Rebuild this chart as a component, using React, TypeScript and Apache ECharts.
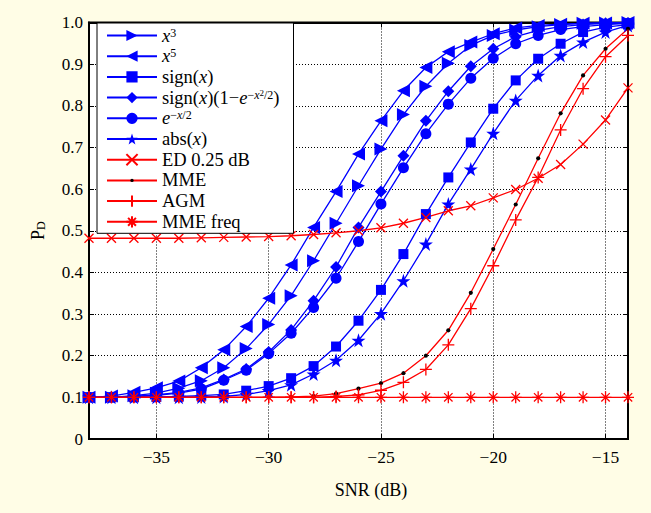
import React, { useEffect, useRef } from 'react';
import * as echarts from 'echarts';

// SNR (dB) sample points
const snr = [-38, -37, -36, -35, -34, -33, -32, -31, -30, -29, -28, -27, -26, -25, -24, -23, -22, -21, -20, -19, -18, -17, -16, -15, -14];

// P_D values
const pdX3 = [0.100, 0.100, 0.104, 0.110, 0.122, 0.140, 0.171, 0.217, 0.275, 0.344, 0.428, 0.518, 0.608, 0.696, 0.779, 0.847, 0.902, 0.945, 0.969, 0.982, 0.990, 0.995, 0.998, 0.999, 1.000];
const pdX5 = [0.100, 0.103, 0.112, 0.123, 0.139, 0.171, 0.214, 0.270, 0.338, 0.418, 0.508, 0.594, 0.684, 0.764, 0.836, 0.892, 0.930, 0.953, 0.973, 0.987, 0.993, 0.996, 0.998, 0.999, 1.000];
const pdSign = [0.100, 0.100, 0.100, 0.101, 0.102, 0.104, 0.107, 0.116, 0.127, 0.146, 0.175, 0.222, 0.284, 0.358, 0.444, 0.540, 0.628, 0.712, 0.793, 0.861, 0.913, 0.949, 0.977, 0.989, 0.995];
const pdSignExp = [0.100, 0.100, 0.102, 0.106, 0.112, 0.123, 0.143, 0.168, 0.209, 0.262, 0.332, 0.413, 0.508, 0.594, 0.680, 0.764, 0.835, 0.895, 0.937, 0.966, 0.981, 0.990, 0.995, 0.998, 0.999];
const pdExp = [0.100, 0.100, 0.102, 0.105, 0.110, 0.120, 0.141, 0.165, 0.205, 0.254, 0.316, 0.386, 0.474, 0.564, 0.651, 0.733, 0.804, 0.866, 0.914, 0.949, 0.969, 0.983, 0.990, 0.995, 0.998];
const pdAbs = [0.100, 0.100, 0.100, 0.100, 0.100, 0.101, 0.102, 0.107, 0.116, 0.130, 0.156, 0.189, 0.237, 0.301, 0.380, 0.468, 0.564, 0.648, 0.734, 0.813, 0.873, 0.921, 0.953, 0.977, 0.993];
const pdED = [0.482, 0.482, 0.482, 0.482, 0.482, 0.483, 0.484, 0.485, 0.486, 0.488, 0.491, 0.495, 0.500, 0.507, 0.518, 0.532, 0.548, 0.560, 0.579, 0.599, 0.626, 0.659, 0.708, 0.766, 0.843];
const pdMME = [0.100, 0.100, 0.100, 0.100, 0.100, 0.100, 0.100, 0.100, 0.100, 0.101, 0.103, 0.109, 0.121, 0.134, 0.158, 0.200, 0.261, 0.351, 0.456, 0.563, 0.674, 0.782, 0.873, 0.937, 0.985];
const pdAGM = [0.100, 0.100, 0.100, 0.100, 0.100, 0.100, 0.100, 0.100, 0.100, 0.100, 0.100, 0.102, 0.106, 0.117, 0.136, 0.167, 0.226, 0.313, 0.416, 0.526, 0.628, 0.742, 0.841, 0.918, 0.969];
const pdMMEfreq = [0.100, 0.100, 0.100, 0.100, 0.100, 0.100, 0.100, 0.100, 0.100, 0.100, 0.100, 0.100, 0.100, 0.100, 0.100, 0.100, 0.100, 0.100, 0.100, 0.100, 0.100, 0.100, 0.100, 0.100, 0.100];

const seriesNames = ['x3', 'x5', 'sign(x)', 'sign(x)(1−e−x2/2)', 'e−x/2', 'abs(x)', 'ED 0.25 dB', 'MME', 'AGM', 'MME freq'];

const LEGEND_RICH: Record<string, string> = {
  'x3': '{i|x}{sup|3}',
  'x5': '{i|x}{sup|5}',
  'sign(x)': 'sign({i|x})',
  'sign(x)(1−e−x2/2)': 'sign({i|x})(1−{i|e}{sup|−}{supi|x}{sup2|2}{sup|/2})',
  'e−x/2': '{i|e}{sup|−}{supi|x}{sup|/2}',
  'abs(x)': 'abs({i|x})',
  'ED 0.25 dB': 'ED 0.25 dB',
  'MME': 'MME',
  'AGM': 'AGM',
  'MME freq': 'MME freq',
};

const FONT = '"Liberation Serif", "Times New Roman", serif';
const BLUE = '#0000ff';
const RED = '#ff0000';
const BG = '#fffde6';

const STAR = 'path://M50,0 L61.8,35.1 L98.1,35.1 L68.8,56.7 L79.4,91 L50,70 L20.6,91 L31.2,56.7 L1.9,35.1 L38.2,35.1 Z';
const XMARK = 'path://M0,0L10,10M10,0L0,10';
const PLUS = 'path://M5,0L5,10M0,5L10,5';
const ASTER = 'path://M5,0L5,10M0,5L10,5M1.5,1.5L8.5,8.5M8.5,1.5L1.5,8.5';
// small filled dot centred in a 10x10 box (the moveTo points fix the box)
const SMALLDOT = 'path://M0,0M10,10M3.5,5L3.9,3.9L5,3.5L6.1,3.9L6.5,5L6.1,6.1L5,6.5L3.9,6.1Z';

function pts(vals: number[]) {
  return snr.map((x, i) => [x, vals[i]]);
}

function blueSeries(name: string, vals: number[], symbol: string, size: number, rotate = 0) {
  return {
    name,
    type: 'line',
    data: pts(vals),
    symbol,
    symbolSize: size,
    symbolRotate: rotate,
    showAllSymbol: true,
    lineStyle: { color: BLUE, width: 1.3 },
    itemStyle: { color: BLUE },
    emphasis: { disabled: true },
  };
}

function redStroked(name: string, vals: number[], symbol: string, size: number) {
  return {
    name,
    type: 'line',
    data: pts(vals),
    symbol,
    symbolSize: size,
    showAllSymbol: true,
    lineStyle: { color: RED, width: 1.3 },
    itemStyle: { color: 'rgba(0,0,0,0)', borderColor: RED, borderWidth: 1.3 },
    emphasis: { disabled: true },
  };
}

export default function App() {
  const ref = useRef<HTMLDivElement>(null);
  useEffect(() => {
    const chart = echarts.init(ref.current!, null, { renderer: 'svg' });
    const axisCommon = {
      type: 'value',
      axisLine: { show: true, onZero: false, lineStyle: { color: '#000', width: 2 } },
      axisTick: { show: true, inside: true, length: 5, lineStyle: { color: '#000', width: 1 } },
    };
    const option = {
      animation: false,
      backgroundColor: BG,
      textStyle: { fontFamily: FONT },
      grid: { left: 89, right: 23, top: 22.5, bottom: 74, show: true, backgroundColor: '#fff', borderColor: '#000', borderWidth: 2 },
      xAxis: [
        {
          ...axisCommon,
          position: 'bottom',
          min: -38, max: -14, splitNumber: 5,
          axisLabel: {
            show: true, showMinLabel: false, showMaxLabel: false, margin: 9,
            color: '#000', fontFamily: FONT, fontSize: 17.5,
            formatter: (v: number) => (v < 0 ? '−' + Math.abs(v) : String(v)),
          },
          splitLine: { show: true, lineStyle: { color: '#000', width: 1, type: [1, 2] } },
        },
        {
          ...axisCommon,
          position: 'top',
          min: -38, max: -14, splitNumber: 5,
          axisLabel: { show: false },
          splitLine: { show: false },
        },
      ],
      yAxis: [
        {
          ...axisCommon,
          position: 'left',
          min: 0, max: 1, interval: 0.1,
          axisLabel: {
            show: true, margin: 6, color: '#000', fontFamily: FONT, fontSize: 17,
            formatter: (v: number) => (v === 0 ? '0' : v.toFixed(1)),
          },
          splitLine: { show: true, lineStyle: { color: '#000', width: 1, type: [1, 2] } },
          name: '{p|P}{s|D}',
          nameLocation: 'middle',
          nameRotate: 90,
          nameGap: 42,
          nameTextStyle: {
            rich: {
              p: { fontFamily: FONT, fontSize: 18, color: '#000' },
              s: { fontFamily: FONT, fontSize: 12, color: '#000', verticalAlign: 'bottom', padding: [6, 0, 0, 0] },
            },
          },
        },
        {
          ...axisCommon,
          position: 'right',
          min: 0, max: 1, interval: 0.1,
          axisLabel: { show: false },
          splitLine: { show: false },
        },
      ],
      graphic: [
        {
          type: 'text',
          x: 371,
          y: 490,
          style: { text: 'SNR (dB)', fontFamily: FONT, fontSize: 18, fill: '#000', align: 'center', verticalAlign: 'middle' },
        },
      ],
      legend: {
        orient: 'vertical',
        left: 97,
        top: 23,
        padding: [3, 14, 2, 9],
        itemGap: 1.7,
        itemWidth: 50,
        itemHeight: 14,
        backgroundColor: '#fff',
        borderColor: '#000',
        borderWidth: 1,
        borderRadius: 0,
        selectedMode: false,
        formatter: (name: string) => LEGEND_RICH[name] ?? name,
        textStyle: {
          fontFamily: FONT,
          fontSize: 18.5,
          color: '#000',
          lineHeight: 18,
          rich: {
            i: { fontFamily: FONT, fontSize: 18.5, fontStyle: 'italic', color: '#000', lineHeight: 18 },
            sup: { fontFamily: FONT, fontSize: 12, color: '#000', verticalAlign: 'top', lineHeight: 12 },
            supi: { fontFamily: FONT, fontSize: 12, fontStyle: 'italic', color: '#000', verticalAlign: 'top', lineHeight: 12 },
            sup2: { fontFamily: FONT, fontSize: 9, color: '#000', verticalAlign: 'top', lineHeight: 9 },
          },
        },
        data: seriesNames,
      },
      series: [
        blueSeries('x3', pdX3, 'triangle', 13, -90),
        blueSeries('x5', pdX5, 'triangle', 13, 90),
        blueSeries('sign(x)', pdSign, 'rect', 10),
        blueSeries('sign(x)(1−e−x2/2)', pdSignExp, 'diamond', 12),
        blueSeries('e−x/2', pdExp, 'circle', 11),
        blueSeries('abs(x)', pdAbs, STAR, 14),
        redStroked('ED 0.25 dB', pdED, XMARK, 9),
        {
          name: 'MME',
          type: 'line',
          data: pts(pdMME),
          symbol: SMALLDOT,
          symbolSize: 14,
          showAllSymbol: true,
          lineStyle: { color: RED, width: 1.3 },
          itemStyle: { color: '#000' },
          emphasis: { disabled: true },
        },
        redStroked('AGM', pdAGM, PLUS, 12),
        redStroked('MME freq', pdMMEfreq, ASTER, 12),
      ],
    };
    chart.setOption(option as any);
    return () => chart.dispose();
  }, []);
  return (
    <div
      ref={ref}
      style={{ position: 'fixed', left: 0, top: 0, width: 651, height: 513, background: BG }}
    />
  );
}
